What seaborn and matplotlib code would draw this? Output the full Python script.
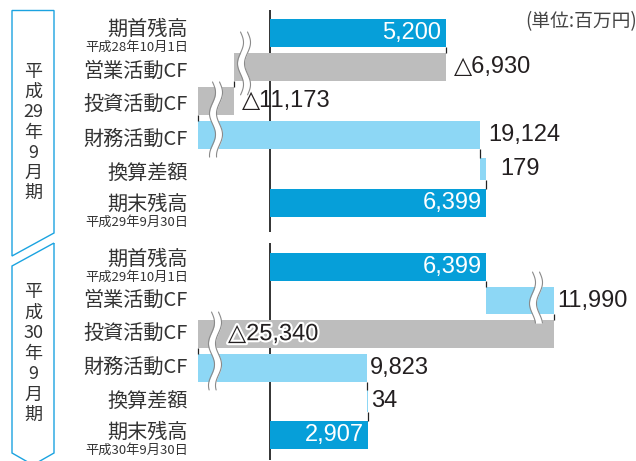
import numpy as np
import pandas as pd
import seaborn as sns
import matplotlib.pyplot as plt
from matplotlib import patheffects
from matplotlib.patches import Polygon

# cash flow data, 百万円
items = ['期首残高', '営業活動CF', '投資活動CF', '財務活動CF', '換算差額', '期末残高']
kinds = ['total', 'flow', 'flow', 'flow', 'flow', 'total']
fy29_values = [5200, -6930, -11173, 19124, 179, 6399]
fy30_values = [6399, 11990, -25340, 9823, 34, 2907]
fy29_dates = ['平成28年10月1日', '平成29年9月30日']
fy30_dates = ['平成29年10月1日', '平成30年9月30日']
fy29_period = ['平', '成', '29', '年', '9', '月', '期']
fy30_period = ['平', '成', '30', '年', '9', '月', '期']
unit_label = '(単位:百万円)'

DARK = '#069fd9'
LIGHT = '#8dd7f5'
GRAY = '#bdbdbd'
EDGE = '#1ba3e0'
TXT = '#333333'
NUM = '#231f20'
JP = ['Noto Sans CJK JP', 'DejaVu Sans']
NUMF = ['Liberation Sans', 'DejaVu Sans']

sns.set_style('white')
plt.rcParams['font.family'] = JP

W, H = 636, 461
K = 216 / 6400  # px per 百万円 on the unbroken part


def waterfall(values):
    starts, ends = [], []
    run = 0
    for v, k in zip(values, kinds):
        if k == 'total':
            starts.append(0)
            run = v
        else:
            starts.append(run)
            run = run + v
        ends.append(run)
    return np.array(starts, float), np.array(ends, float)


def make_scale(knots):
    v = np.array([a for a, b in knots], float)
    p = np.array([b for a, b in knots], float)
    v = np.r_[v[0] - 1e6, v, v[-1] + 1e6]
    p = np.r_[p[0] - 1e6 * K, p, p[-1] + 1e6 * K]
    return (lambda x: np.interp(x, v, p)), (lambda y: np.interp(y, p, v))


def fmt(v):
    return ('△' if v < 0 else '') + f'{abs(v):,}'


fig = plt.figure(figsize=(W / 100, H / 100), dpi=100)

s29, e29 = waterfall(fy29_values)
s30, e30 = waterfall(fy30_values)

panels = [
    dict(values=fy29_values, starts=s29, ends=e29, dates=fy29_dates, period=fy29_period,
         knots=[(e29[2], -72), (e29[1], -36), (0, 0)],
         box=(10, 232), row0=33, pitch=34, shift=4, pad=8, pads={4: 14},
         breaks=[(-26, -0.03, 1.82), (-54, 1.44, 3.65)], override={},
         period_y=72, period_step=20.2),
    dict(values=fy30_values, starts=s30, ends=e30, dates=fy30_dates, period=fy30_period,
         knots=[(e30[2], -72), (0, 0), (e30[0], e30[0] * K), (e30[1], 284)],
         box=(243, 460), row0=267, pitch=33.6, shift=0, pad=3, pads={},
         breaks=[(-55, 1.34, 3.66), (266, 0.15, 1.67)], override={2: -42},
         period_y=292, period_step=20.5),
]

for pn in panels:
    y0, y1 = pn['box']
    ax = fig.add_axes([198 / W, 1 - y1 / H, 422 / W, (y1 - y0) / H])
    starts, ends, values = pn['starts'], pn['ends'], pn['values']
    df = pd.DataFrame({'item': items, 'length': ends - starts})
    sns.barplot(data=df, x='length', y='item', orient='h', left=starts,
                width=0.82, errorbar=None, color=GRAY, saturation=1, ax=ax)
    heights = []
    for i, p in enumerate(ax.patches):
        if kinds[i] == 'total':
            c = DARK
        else:
            c = LIGHT if values[i] > 0 else GRAY
        p.set_facecolor(c)
        p.set_edgecolor('none')
        p.set_zorder(2)
        if items[i] == '換算差額':
            h = p.get_height()
            p.set_y(p.get_y() + (h - 0.65) / 2)
            p.set_height(0.65)
        heights.append(p.get_height())

    fwd, inv = make_scale(pn['knots'])
    ax.set_xscale('function', functions=(fwd, inv))
    ax.set_xlim(inv(-72), inv(350))
    pitch = pn['pitch']
    ax.set_ylim((y1 - pn['row0']) / pitch, (y0 - pn['row0']) / pitch)
    ax.set_xticks([])
    ax.set_yticks([])
    ax.set_xlabel('')
    ax.set_ylabel('')
    sns.despine(ax=ax, left=True, bottom=True)
    ax.axvline(0, color='#111111', lw=1.2, zorder=1)

    # connectors between bars
    for i in range(len(items) - 1):
        ax.vlines(ends[i], i + heights[i] / 2, i + 1 - heights[i + 1] / 2,
                  color='#222222', lw=0.9, clip_on=False, zorder=3)

    # axis break marks
    for xc, ta, tb in pn['breaks']:
        t = np.linspace(ta, tb, 80)
        xp = xc + 3 * np.sin(2 * np.pi * (t - ta) * pitch / 42)
        ax.fill_betweenx(t, inv(xp - 3.5), inv(xp + 3.5), color='white',
                         lw=0, zorder=4, clip_on=False)
        ax.plot(inv(xp - 3.5), t, color='#8a8a8a', lw=0.8, zorder=5, clip_on=False)
        ax.plot(inv(xp + 3.5), t, color='#8a8a8a', lw=0.8, zorder=5, clip_on=False)

    # value labels
    for i, v in enumerate(values):
        if kinds[i] == 'total':
            ax.text(inv(fwd(ends[i]) - 4), i, fmt(v), ha='right', va='center',
                    color='white', fontsize=17, family=NUMF, zorder=7)
            continue
        pad = pn['pads'].get(i, pn['pad'])
        if i in pn['override']:
            x = inv(pn['override'][i])
        elif v > 0:
            x = inv(fwd(ends[i]) + pad)
        else:
            x = inv(fwd(starts[i]) + pad)
        t = ax.text(x, i, fmt(v), ha='left', va='center', color=NUM,
                    fontsize=17, family=NUMF, zorder=7)
        if i in pn['override']:
            t.set_path_effects([patheffects.withStroke(linewidth=3, foreground='white')])

    # category labels
    lx = (188 - 198) / 422
    tr = ax.get_yaxis_transform()
    for i, name in enumerate(items):
        base = i + pn['shift'] / pitch
        if i == 0:
            ax.text(lx, base - 7.5 / pitch, name, transform=tr, ha='right', va='center',
                    fontsize=14.5, color=TXT)
            ax.text(lx, base + 10.5 / pitch, pn['dates'][0], transform=tr, ha='right',
                    va='center', fontsize=9.5, color=TXT)
        elif i == len(items) - 1:
            ax.text(lx, base - 2.5 / pitch, name, transform=tr, ha='right', va='center',
                    fontsize=14.5, color=TXT)
            ax.text(lx, base + 15.5 / pitch, pn['dates'][1], transform=tr, ha='right',
                    va='center', fontsize=9.5, color=TXT)
        else:
            ax.text(lx, base, name, transform=tr, ha='right', va='center',
                    fontsize=14.5, color=TXT)

    # period text in the bracket
    for j, ch in enumerate(pn['period']):
        fig.text(33 / W, 1 - (pn['period_y'] + j * pn['period_step']) / H, ch,
                 ha='center', va='center', fontsize=13, color=TXT)


def fig_poly(pts):
    xy = [(x / W, 1 - y / H) for x, y in pts]
    fig.add_artist(Polygon(xy, closed=True, fill=False, edgecolor=EDGE, lw=1.0,
                           transform=fig.transFigure))


fig_poly([(12, 256), (12, 10.5), (54, 10.5), (54, 233)])
fig_poly([(54, 243), (12, 266), (12, 453), (33, 465), (54, 453)])

fig.text(637 / W, 1 - 22 / H, unit_label, ha='right', va='center', fontsize=13.5, color='#444444')

fig.savefig('out.png', dpi=100)
